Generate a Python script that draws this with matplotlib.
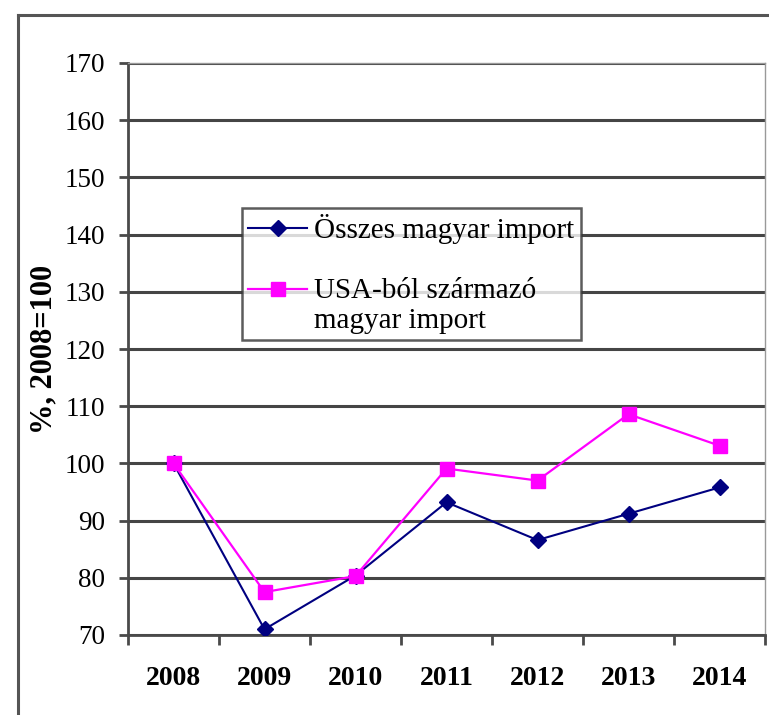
import matplotlib
matplotlib.use("Agg")
import matplotlib.pyplot as plt
from matplotlib.lines import Line2D
from matplotlib.transforms import Affine2D

years = ["2008", "2009", "2010", "2011", "2012", "2013", "2014"]
total_import = [100.0, 71.0, 80.4, 93.2, 86.6, 91.2, 95.8]
usa_import = [100.0, 77.5, 80.3, 99.1, 97.0, 108.6, 103.1]
label_total = "Összes magyar import"
label_usa = "USA-ból származó\nmagyar import"
y_ticks = list(range(70, 171, 10))

plt.rcParams['font.family'] = ['Liberation Serif', 'DejaVu Serif']

W, H = 769, 715
fig = plt.figure(figsize=(W / 100, H / 100), dpi=100)

# figure frame (left and top edges)
fig.add_artist(Line2D([18 / W, 18 / W], [0, 1 - 15 / H], transform=fig.transFigure,
                      color="#555555", lw=2.2))
fig.add_artist(Line2D([18 / W, 1], [1 - 15 / H, 1 - 15 / H], transform=fig.transFigure,
                      color="#555555", lw=2.2))

left, right, top, bottom = 128, 765, 63, 635
ax = fig.add_axes([left / W, 1 - bottom / H, (right - left) / W, (bottom - top) / H])

x = list(range(len(years)))
ax.plot(x, total_import, color="#000080", lw=1.5, marker="D", markersize=8,
        label=label_total, zorder=3)
ax.plot(x, usa_import, color="#FF00FF", lw=1.6, marker="s", markersize=10,
        label=label_usa, zorder=4)

ax.set_xlim(-0.5, len(years) - 0.5)
ax.set_ylim(70, 170)
ax.set_yticks(y_ticks)
ax.set_yticklabels([str(v) for v in y_ticks], fontsize=19.5)
ax.yaxis.grid(True, color="#454545", lw=2.2)
ax.set_axisbelow(True)

# x ticks at category boundaries, labels at centers
ax.set_xticks([i - 0.5 for i in range(len(years) + 1)])
ax.set_xticklabels([])
ax.set_xticks(x, minor=True)
ax.set_xticklabels(years, minor=True, fontsize=20, fontweight="bold")
ax.tick_params(axis="x", which="minor", length=0, pad=22)
ax.tick_params(axis="x", which="major", direction="out", length=7, width=2, color="#4a4a4a")
ax.tick_params(axis="y", direction="out", length=6.5, width=2, color="#4a4a4a", pad=10)

for s in ["left", "bottom"]:
    ax.spines[s].set_color("#4a4a4a")
    ax.spines[s].set_linewidth(2)
for s in ["top", "right"]:
    ax.spines[s].set_color("#999999")
    ax.spines[s].set_linewidth(1)

ax.set_ylabel("%, 2008=100", fontsize=22, fontweight="bold", labelpad=4)

leg = ax.legend(loc="upper left", bbox_to_anchor=((242 - left) / (right - left), (bottom - 208) / (bottom - top)),
                fontsize=21, frameon=True, fancybox=False, edgecolor="#333333",
                handlelength=2.0, labelspacing=1.15, borderpad=0.22, handletextpad=0.25,
                borderaxespad=0)
leg.get_frame().set_linewidth(1.8)
for t in leg.get_texts():
    t.set_linespacing(1.2)
# align the USA handle with the first line of its label
h = leg.legend_handles[1]
h.set_transform(h.get_transform() + Affine2D().translate(0, 17))

fig.savefig("out.png", dpi=100)
